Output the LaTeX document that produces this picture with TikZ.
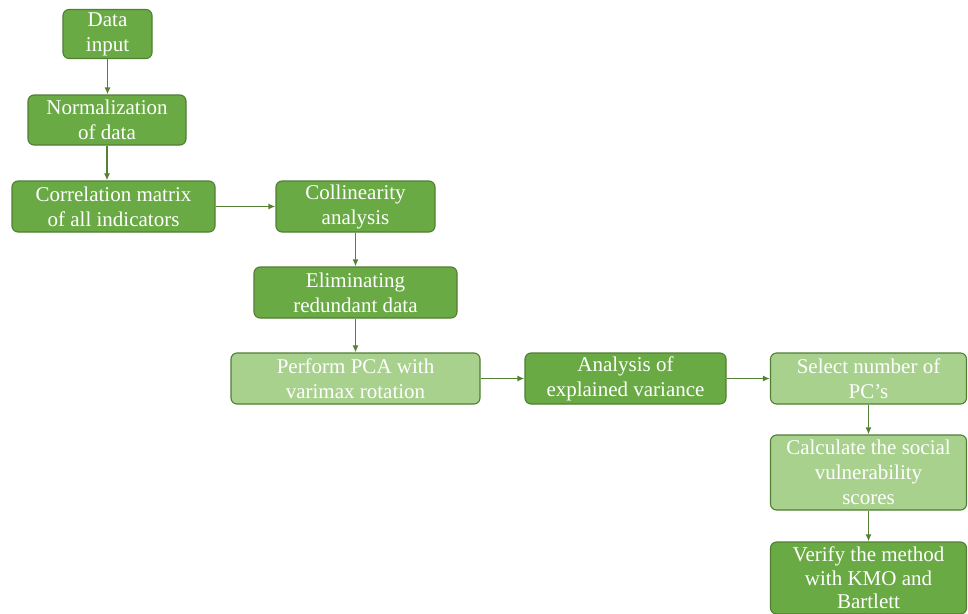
\documentclass[tikz,border=0pt]{standalone}
\usepackage{fontspec}
\setmainfont{Liberation Serif}
\usetikzlibrary{arrows.meta}
\definecolor{gdark}{HTML}{6AAA45}
\definecolor{glight}{HTML}{A9D18E}
\definecolor{gborder}{HTML}{507E32}
\definecolor{garrow}{HTML}{548235}
\tikzset{
  box/.style={draw=gborder, line width=1.1pt, rounded corners=6pt, text=white,
    align=center, inner sep=0pt, font=\fontsize{21}{25}\selectfont},
  dbox/.style={box, fill=gdark},
  lbox/.style={box, fill=glight},
  conn/.style={draw=garrow, line width=1.6pt, -{Latex[length=7pt,width=6pt]}}
}
\begin{document}
\begin{tikzpicture}[x=1pt,y=-1pt]
\useasboundingbox (0,0) rectangle (968,613);
\node[dbox, minimum width=89pt, minimum height=49pt] (a) at (107.5,34) {Data\\input};
\node[dbox, minimum width=158pt, minimum height=50pt] (b) at (107,120) {Normalization\\of data};
\node[dbox, minimum width=203pt, minimum height=51pt] (c) at (113.5,206.5) {Correlation matrix\\of all indicators};
\node[dbox, minimum width=159pt, minimum height=51pt] (d) at (355.5,206.5) {Collinearity\\analysis};
\node[dbox, minimum width=203pt, minimum height=51pt] (e) at (355.5,292.5) {Eliminating\\redundant data};
\node[lbox, minimum width=249pt, minimum height=51pt] (f) at (355.5,378.5) {Perform PCA with\\varimax rotation};
\node[dbox, minimum width=201pt, minimum height=51pt] (g) at (625.5,378.5) {Analysis of\\explained variance};
\node[lbox, minimum width=196pt, minimum height=51pt] (h) at (868.5,378.5) {Select number of\\PC’s};
\node[lbox, minimum width=196pt, minimum height=75pt] (i) at (868.5,472.5) {Calculate the social\\vulnerability\\scores};
\node[dbox, minimum width=196pt, minimum height=72pt, font=\fontsize{21}{23.5}\selectfont] (j) at (868.5,578) {Verify the method\\with KMO and\\Bartlett};
\draw[conn] (a.south) -- (a.south |- b.north);
\draw[conn] (b.south) -- (b.south |- c.north);
\draw[conn] (c.east) -- (d.west);
\draw[conn] (d.south) -- (d.south |- e.north);
\draw[conn] (e.south) -- (e.south |- f.north);
\draw[conn] (f.east) -- (g.west);
\draw[conn] (g.east) -- (h.west);
\draw[conn] (h.south) -- (h.south |- i.north);
\draw[conn] (i.south) -- (i.south |- j.north);
\end{tikzpicture}
\end{document}
